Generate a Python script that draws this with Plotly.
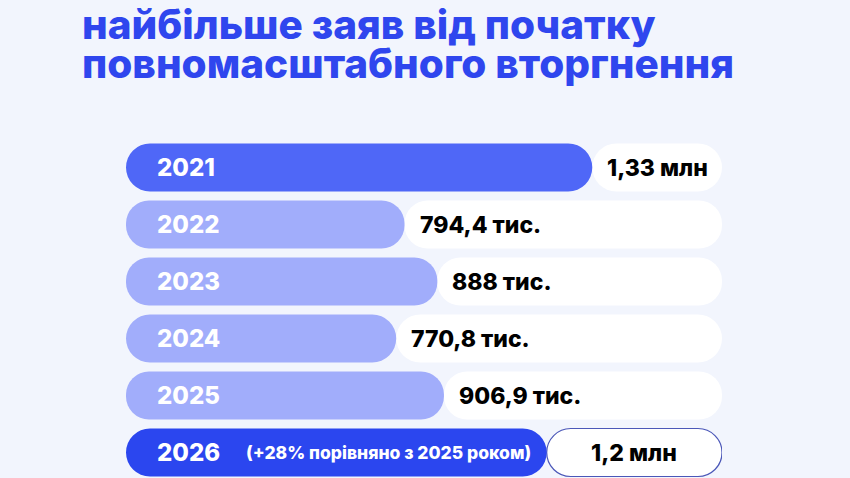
import plotly.graph_objects as go

# data
years = ['2021', '2022', '2023', '2024', '2025', '2026']
values = [1330, 794.4, 888, 770.8, 906.9, 1200]   # thousands of applications
value_labels = ['1,33 млн', '794,4 тис.', '888 тис.', '770,8 тис.', '906,9 тис.', '1,2 млн']
note_2026 = '(+28% порівняно з 2025 роком)'
title_lines = ['найбільше заяв від початку', 'повномасштабного вторгнення']

W, H = 850, 478
L, R, T, B = 126, 128, 139, 0
PILL_END = 1700          # right end of the white pills, in data units
FONT = 'Inter'

bar_colors = ['#4f67f7', '#a1adfb', '#a1adfb', '#a1adfb', '#a1adfb', '#2b46ef']
pill_line = ['#ffffff'] * 5 + ['#4b57b8']
pill_width = [0] * 5 + [1.2]


def px_x(px):
    return (px - L) / (W - L - R)


def px_y(py):
    return 1 - (py - T) / (H - T - B)


fig = go.Figure()

# white pills to the right of each bar
fig.add_trace(go.Bar(
    y=years,
    x=[PILL_END - v for v in values],
    base=values,
    orientation='h',
    width=0.842,
    marker=dict(color='#ffffff', cornerradius='50%',
                line=dict(color=pill_line, width=pill_width)),
    hoverinfo='skip',
))

# the bars themselves (base given so both ends get rounded)
fig.add_trace(go.Bar(
    y=years,
    x=values,
    base=[0] * len(values),
    orientation='h',
    width=0.842,
    marker=dict(color=bar_colors, cornerradius='50%', line=dict(width=0)),
    hoverinfo='skip',
))

annotations = []
for i, (yr, v, lab) in enumerate(zip(years, values, value_labels)):
    annotations.append(dict(
        x=px_x(155), xref='paper', y=i, yref='y',
        text=yr, showarrow=False, xanchor='left', yanchor='middle',
        font=dict(family=FONT, size=24, weight=800, color='white'),
    ))
    if i == len(years) - 1:
        annotations.append(dict(
            x=(v + PILL_END) / 2, xref='x', y=i, yref='y',
            text=lab, showarrow=False, xanchor='center', yanchor='middle',
            font=dict(family=FONT, size=23, weight=800, color='black'),
        ))
    else:
        annotations.append(dict(
            x=v, xref='x', xshift=13, y=i, yref='y',
            text=lab, showarrow=False, xanchor='left', yanchor='middle',
            font=dict(family=FONT, size=23, weight=800, color='black'),
        ))

annotations.append(dict(
    x=px_x(244), xref='paper', y=len(years) - 1, yref='y',
    text=note_2026, showarrow=False, xanchor='left', yanchor='middle',
    font=dict(family=FONT, size=17.5, weight=800, color='white'),
))

for k, line in enumerate(title_lines):
    annotations.append(dict(
        x=px_x(80), xref='paper', y=px_y(24 + 40 * k), yref='paper',
        text=line, showarrow=False, xanchor='left', yanchor='middle',
        font=dict(family=FONT, size=40.5, weight=800, color='#2f46ee'),
    ))

fig.update_layout(
    width=W, height=H,
    margin=dict(l=L, r=R, t=T, b=B),
    paper_bgcolor='#f2f5fd',
    plot_bgcolor='#f2f5fd',
    barmode='overlay',
    showlegend=False,
    xaxis=dict(range=[0, PILL_END], visible=False, fixedrange=True),
    yaxis=dict(type='category', range=[5.447, -0.5], visible=False, fixedrange=True),
    annotations=annotations,
)

fig.write_html('out.html', config={'displayModeBar': False},
               post_script="document.body.style.margin='0';")
